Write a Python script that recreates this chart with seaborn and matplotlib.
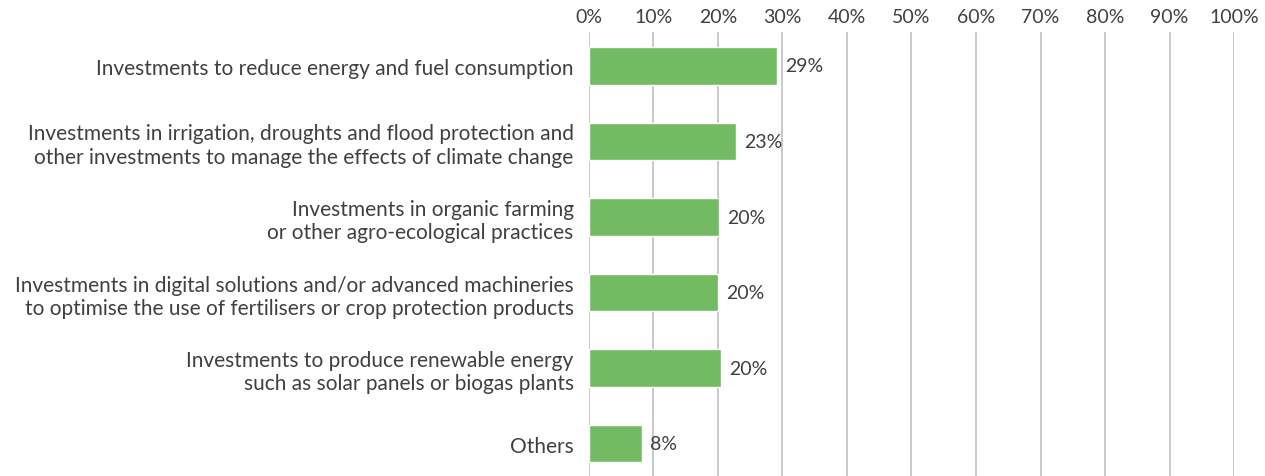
import matplotlib
matplotlib.use("Agg")
import matplotlib.pyplot as plt
import seaborn as sns
import pandas as pd

categories = [
    "Investments to reduce energy and fuel consumption",
    "Investments in irrigation, droughts and flood protection and\nother investments to manage the effects of climate change",
    "Investments in organic farming\nor other agro-ecological practices",
    "Investments in digital solutions and/or advanced machineries\nto optimise the use of fertilisers or crop protection products",
    "Investments to produce renewable energy\nsuch as solar panels or biogas plants",
    "Others",
]
shares = [29.1, 22.8, 20.1, 20.0, 20.4, 8.2]
x_ticks = [0, 10, 20, 30, 40, 50, 60, 70, 80, 90, 100]

df = pd.DataFrame({"category": categories, "share": shares})

sns.set_theme(style="white")
plt.rcParams["font.family"] = ["Lato", "DejaVu Sans"]

text_color = "#404040"
bar_color = "#72BB63"
grid_color = "#C8C8C8"

fig = plt.figure(figsize=(12.65, 4.77), dpi=100)
ax = fig.add_axes([0.4656, 0.0, 0.5099, 0.9308])

sns.barplot(data=df, x="share", y="category", orient="h", color=bar_color,
            width=0.5, saturation=1, ax=ax, zorder=3)

ax.set_xlim(0, 100)
ax.set_ylim(5.43, -0.45)
ax.set_xticks(x_ticks)
ax.set_xticklabels([f"{v}%" for v in x_ticks])
ax.xaxis.tick_top()
ax.xaxis.set_label_position("top")
ax.set_xlabel("")
ax.set_ylabel("")

ax.grid(axis="x", color=grid_color, linewidth=1.4, zorder=0)
ax.grid(axis="y", visible=False)
for s in ax.spines.values():
    s.set_visible(False)

ax.tick_params(axis="x", length=0, pad=5, labelsize=14, labelcolor=text_color)
ax.tick_params(axis="y", length=0, pad=11, labelsize=15, labelcolor=text_color)
for t in ax.get_yticklabels():
    t.set_linespacing(1.2)

ax.bar_label(ax.containers[0], labels=[f"{round(v)}%" for v in shares],
             padding=6, fontsize=14, color=text_color)

fig.savefig("out.png", dpi=100, facecolor="white")
